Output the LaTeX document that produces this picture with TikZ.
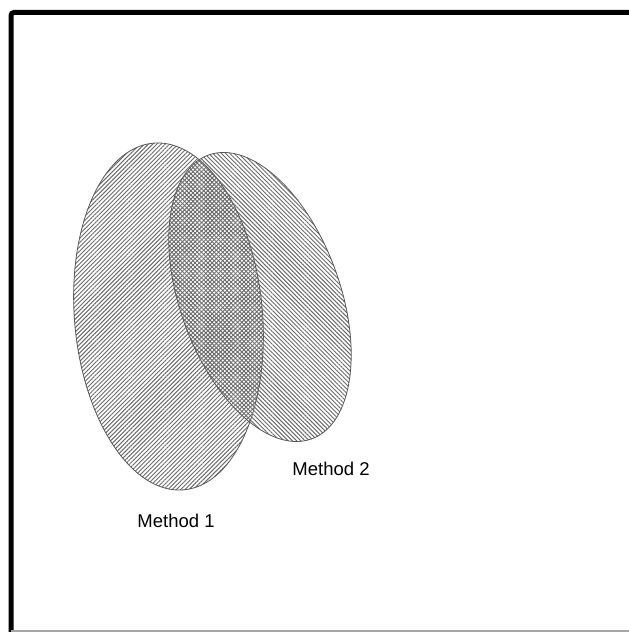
\documentclass[tikz,border=0pt]{standalone}
\usepackage{fontspec}
\setmainfont{Liberation Sans}
\usetikzlibrary{shapes.geometric,patterns.meta}
\tikzset{
  setshape/.style={ellipse, inner sep=0pt, draw=black!65, line width=0.8pt},
  hatchA/.style={pattern={Lines[angle=45,distance=3pt,line width=0.95pt]}, pattern color=black!58},
  hatchB/.style={pattern={Lines[angle=-45,distance=3pt,line width=0.95pt]}, pattern color=black!58},
  lbl/.style={font=\fontsize{18.5}{22}\selectfont, inner sep=0pt}
}
\begin{document}
\begin{tikzpicture}[x=1pt,y=1pt]
\useasboundingbox (0,0) rectangle (629,632);
\clip (0,0) rectangle (629,632);
\fill[white] (0,0) rectangle (629,632);
% frame
\draw[line width=5pt, rounded corners=3pt] (11,-10) -- (11,619.5) -- (629,619.5);
\draw[black!35, line width=1.5pt] (11,1.2) -- (629,1.2);
% sets
\node[setshape, hatchA, minimum width=188pt, minimum height=348pt, rotate=5] (m1) at (168.5,315.5) {};
\node[setshape, hatchB, minimum width=160pt, minimum height=302pt, rotate=20] (m2) at (260,335) {};
% labels
\node[lbl] (l2) at (331,163) {Method 2};
\node[lbl] (l1) at (176,111) {Method 1};
\end{tikzpicture}
\end{document}
